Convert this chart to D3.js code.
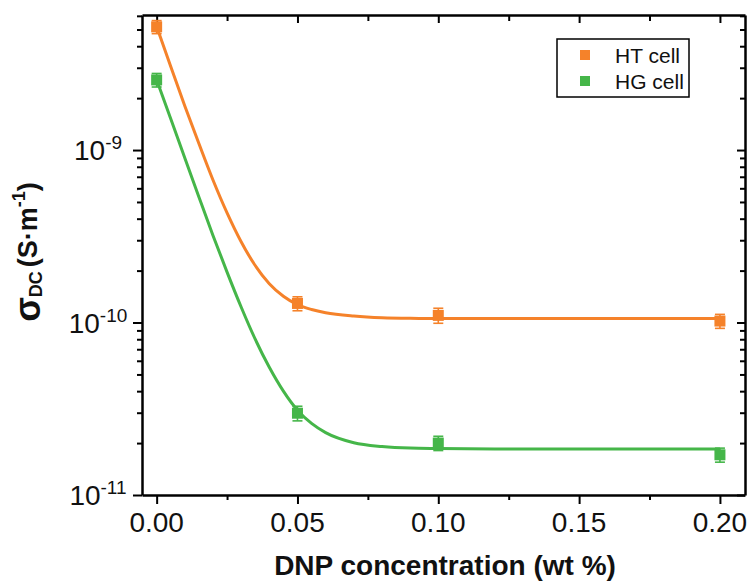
<!DOCTYPE html>
<html>
<head>
<meta charset="utf-8">
<script src="https://cdn.jsdelivr.net/npm/d3@7"></script>
<style>
  html, body { margin: 0; padding: 0; background: #fff; }
  svg { display: block; font-family: "Liberation Sans", Arial, sans-serif; }
</style>
</head>
<body>
<svg id="chart" width="750" height="582"></svg>
<script>
// ---- data ----
const xTicks = [0.00, 0.05, 0.10, 0.15, 0.20];
const xTickLabels = ["0.00", "0.05", "0.10", "0.15", "0.20"];
const xMinorTicks = [0.025, 0.075, 0.125, 0.175];
const yTicks = [1e-11, 1e-10, 1e-9];
const yTickExponents = ["-11", "-10", "-9"];

const seriesNames = ["HT cell", "HG cell"];
const seriesColors = ["#f5822a", "#45b649"];

const concX = [0.00, 0.05, 0.10, 0.20];
const htValues = [5.18e-9, 1.29e-10, 1.10e-10, 1.02e-10];
const htErrors = [0.45e-9, 0.12e-10, 0.11e-10, 0.095e-10];
const hgValues = [2.55e-9, 2.98e-11, 2.00e-11, 1.71e-11];
const hgErrors = [0.23e-9, 0.29e-11, 0.19e-11, 0.16e-11];

// fitted curves
const fitX  = [0, 0.005, 0.01, 0.015, 0.02, 0.025, 0.03, 0.035, 0.04, 0.045, 0.05, 0.055, 0.06, 0.07, 0.08, 0.09, 0.10, 0.12, 0.15, 0.20];
const htFit = [5.2e-9, 3.05e-9, 1.80e-9, 1.09e-9, 6.7e-10, 4.32e-10, 2.94e-10, 2.14e-10, 1.68e-10, 1.42e-10, 1.27e-10, 1.19e-10, 1.14e-10, 1.09e-10, 1.065e-10, 1.057e-10, 1.055e-10, 1.055e-10, 1.055e-10, 1.055e-10];
const hgFit = [2.55e-9, 1.52e-9, 9.0e-10, 5.35e-10, 3.2e-10, 1.96e-10, 1.23e-10, 8.0e-11, 5.5e-11, 4.0e-11, 3.1e-11, 2.6e-11, 2.3e-11, 2.01e-11, 1.91e-11, 1.87e-11, 1.86e-11, 1.85e-11, 1.85e-11, 1.85e-11];

// ---- layout ----
const svg = d3.select("#chart");
const L = 142, R = 745, T = 15, B = 495;

const x = d3.scaleLinear().domain([-0.0052, 0.2089]).range([L, R]);
const y = d3.scaleLog().domain([1e-11, Math.pow(10, -8.217)]).range([B, T]);

const yMinor = [];
for (let e = -11; e <= -9; e++) {
  for (let m = 2; m <= 9; m++) {
    const v = m * Math.pow(10, e);
    if (v <= y.domain()[1]) yMinor.push(v);
  }
}

const axisStroke = 2.5;
function styleAxis(g) {
  g.selectAll("path.domain").attr("stroke", "#000").attr("stroke-width", axisStroke);
  g.selectAll(".tick line").attr("stroke", "#000").attr("stroke-width", 2);
  g.selectAll(".tick text").remove();
}

// bottom
svg.append("g").attr("transform", `translate(0,${B})`)
  .call(d3.axisBottom(x).tickValues(xTicks).tickSize(9).tickSizeOuter(0).tickFormat(""))
  .call(styleAxis);
svg.append("g").attr("transform", `translate(0,${B})`)
  .call(d3.axisBottom(x).tickValues(xMinorTicks).tickSize(5).tickSizeOuter(0).tickFormat(""))
  .call(styleAxis).select("path.domain").remove();
// top (inward)
svg.append("g").attr("transform", `translate(0,${T})`)
  .call(d3.axisTop(x).tickValues(xTicks).tickSize(-8).tickSizeOuter(0).tickFormat(""))
  .call(styleAxis);
svg.append("g").attr("transform", `translate(0,${T})`)
  .call(d3.axisTop(x).tickValues(xMinorTicks).tickSize(-6).tickSizeOuter(0).tickFormat(""))
  .call(styleAxis).select("path.domain").remove();
// left
svg.append("g").attr("transform", `translate(${L},0)`)
  .call(d3.axisLeft(y).tickValues(yTicks).tickSize(9).tickSizeOuter(0).tickFormat(""))
  .call(styleAxis);
svg.append("g").attr("transform", `translate(${L},0)`)
  .call(d3.axisLeft(y).tickValues(yMinor).tickSize(5).tickSizeOuter(0).tickFormat(""))
  .call(styleAxis).select("path.domain").remove();
// right (inward)
svg.append("g").attr("transform", `translate(${R},0)`)
  .call(d3.axisRight(y).tickValues(yTicks).tickSize(-8).tickSizeOuter(0).tickFormat(""))
  .call(styleAxis);
svg.append("g").attr("transform", `translate(${R},0)`)
  .call(d3.axisRight(y).tickValues(yMinor).tickSize(-5).tickSizeOuter(0).tickFormat(""))
  .call(styleAxis).select("path.domain").remove();

// x tick labels
svg.append("g").selectAll("text").data(xTicks).join("text")
  .attr("x", d => x(d)).attr("y", 532)
  .attr("text-anchor", "middle").attr("font-size", 28).attr("fill", "#111")
  .text((d, i) => xTickLabels[i]);

// y tick labels 10^n
const yl = svg.append("g").selectAll("text").data(yTicks).join("text")
  .attr("x", 98).attr("y", d => y(d) + 10)
  .attr("text-anchor", "middle").attr("font-size", 28).attr("fill", "#111");
yl.append("tspan").text("10");
yl.append("tspan").attr("font-size", 19).attr("dy", -11).text((d, i) => yTickExponents[i]);

// axis titles
svg.append("text")
  .attr("x", 445).attr("y", 575)
  .attr("text-anchor", "middle").attr("font-size", 28).attr("font-weight", "bold").attr("fill", "#111")
  .text("DNP concentration (wt %)");

const yt = svg.append("text")
  .attr("transform", "translate(37,252) rotate(-90)")
  .attr("text-anchor", "middle").attr("font-weight", "bold").attr("fill", "#111").attr("font-size", 27);
yt.append("tspan").attr("font-size", 36).attr("dy", 3).text("σ");
yt.append("tspan").attr("font-size", 18).attr("dy", 2).text("DC");
yt.append("tspan").attr("font-size", 27).attr("dy", -5).attr("dx", 4).text("(S·m");
yt.append("tspan").attr("font-size", 18).attr("dy", -12).text("-1");
yt.append("tspan").attr("font-size", 27).attr("dy", 12).text(")");

// ---- series ----
const line = d3.line().x(d => x(d[0])).y(d => y(d[1])).curve(d3.curveMonotoneX);
const fits = [htFit, hgFit];
const vals = [htValues, hgValues];
const errs = [htErrors, hgErrors];

fits.forEach((f, s) => {
  svg.append("path")
    .datum(fitX.map((xv, i) => [xv, f[i]]))
    .attr("d", line)
    .attr("fill", "none").attr("stroke", seriesColors[s]).attr("stroke-width", 3);
});

vals.forEach((v, s) => {
  const g = svg.append("g");
  const pts = concX.map((xv, i) => ({ x: xv, v: v[i], e: errs[s][i] }));
  const col = seriesColors[s];
  g.selectAll("line.eb").data(pts).join("line")
    .attr("x1", d => x(d.x)).attr("x2", d => x(d.x))
    .attr("y1", d => y(d.v + d.e)).attr("y2", d => y(d.v - d.e))
    .attr("stroke", col).attr("stroke-width", 1.6);
  g.selectAll("line.capT").data(pts).join("line")
    .attr("x1", d => x(d.x) - 5).attr("x2", d => x(d.x) + 5)
    .attr("y1", d => y(d.v + d.e)).attr("y2", d => y(d.v + d.e))
    .attr("stroke", col).attr("stroke-width", 1.6);
  g.selectAll("line.capB").data(pts).join("line")
    .attr("x1", d => x(d.x) - 5).attr("x2", d => x(d.x) + 5)
    .attr("y1", d => y(d.v - d.e)).attr("y2", d => y(d.v - d.e))
    .attr("stroke", col).attr("stroke-width", 1.6);
  g.selectAll("rect").data(pts).join("rect")
    .attr("x", d => x(d.x) - 5.5).attr("y", d => y(d.v) - 5.5)
    .attr("width", 11).attr("height", 11).attr("fill", col);
});

// ---- legend ----
const lg = svg.append("g");
lg.append("rect").attr("x", 557).attr("y", 39).attr("width", 132).attr("height", 58)
  .attr("fill", "#fff").attr("stroke", "#000").attr("stroke-width", 1.5);
seriesNames.forEach((n, i) => {
  lg.append("rect").attr("x", 580).attr("y", 50 + i * 26).attr("width", 10).attr("height", 10)
    .attr("fill", seriesColors[i]);
  lg.append("text").attr("x", 615).attr("y", 63 + i * 25.5)
    .attr("font-size", 21).attr("fill", "#111").text(n);
});
</script>
</body>
</html>
